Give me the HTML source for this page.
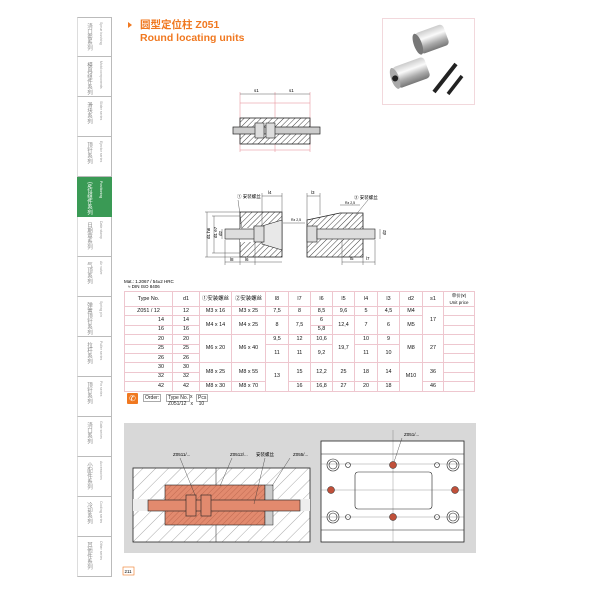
<!DOCTYPE html>
<html><head><meta charset="utf-8"><style>
*{margin:0;padding:0;box-sizing:border-box}
body{width:600px;height:600px;background:#fff;position:relative;overflow:hidden;font-family:"Liberation Sans","Noto Sans CJK SC",sans-serif;color:#222}
.a{position:absolute}
.tab{position:absolute;left:77px;width:35px;height:40px;border-bottom:1px solid #bbb;border-right:1px solid #bbb;border-left:1px solid #ddd}
.tab .cn{position:absolute;left:7px;top:5px;writing-mode:vertical-rl;font-size:5.5px;color:#888;line-height:7px;white-space:nowrap}
.tab .en{position:absolute;left:21px;top:4px;writing-mode:vertical-rl;font-size:3.5px;color:#999;line-height:4px;white-space:nowrap}
.g{background:#3a9a55;border-color:#3a9a55}
.g .cn,.g .en{color:#fff}
table{position:absolute;left:124px;top:291px;border-collapse:collapse;font-size:5.4px;width:351px;color:#111}
td{border:1px solid #eec7cf;text-align:center;height:9.4px;padding:0;line-height:7px}
tr.h td{height:13px}
</style></head><body>
<div class="tab" style="top:17px;border-top:1px solid #bbb"><div class="cn">浇口套系列</div><div class="en">Sprue bushing</div></div>
<div class="tab" style="top:57px"><div class="cn">模具组件系列</div><div class="en">Mold components</div></div>
<div class="tab" style="top:97px"><div class="cn">滑块系列</div><div class="en">Slider series</div></div>
<div class="tab" style="top:137px"><div class="cn">顶针系列</div><div class="en">Ejector series</div></div>
<div class="tab g" style="top:177px"><div class="cn">定位组件系列</div><div class="en">Positioning</div></div>
<div class="tab" style="top:217px"><div class="cn">日期章系列</div><div class="en">Date stamp</div></div>
<div class="tab" style="top:257px"><div class="cn">气顶系列</div><div class="en">Air valve</div></div>
<div class="tab" style="top:297px"><div class="cn">弹簧顶针系列</div><div class="en">Spring pin</div></div>
<div class="tab" style="top:337px"><div class="cn">拉杆系列</div><div class="en">Puller series</div></div>
<div class="tab" style="top:377px"><div class="cn">顶针系列</div><div class="en">Pin series</div></div>
<div class="tab" style="top:417px"><div class="cn">浇口系列</div><div class="en">Gate series</div></div>
<div class="tab" style="top:457px"><div class="cn">小配件系列</div><div class="en">Accessories</div></div>
<div class="tab" style="top:497px"><div class="cn">冷却系列</div><div class="en">Cooling series</div></div>
<div class="tab" style="top:537px"><div class="cn">其他件系列</div><div class="en">Other series</div></div>

<div class="a" style="left:128px;top:22px;width:0;height:0;border-left:4px solid #f07820;border-top:3px solid transparent;border-bottom:3px solid transparent"></div>
<div class="a" style="left:140px;top:19px;font-size:10.5px;font-weight:bold;color:#f07820;line-height:12px">圆型定位柱 Z051</div>
<div class="a" style="left:140px;top:32px;font-size:10.5px;font-weight:bold;color:#f07820;line-height:12px">Round locating units</div>

<div class="a" style="left:382px;top:18px;width:93px;height:87px;border:1px solid #f2d8dc"></div>
<svg class="a" style="left:382px;top:18px" width="93" height="87">
<defs><linearGradient id="m" x1="0" y1="0" x2="0" y2="1"><stop offset="0" stop-color="#ccc"/><stop offset=".35" stop-color="#fafafa"/><stop offset=".7" stop-color="#aaa"/><stop offset="1" stop-color="#777"/></linearGradient></defs>
<g transform="rotate(-20 45 25)"><rect x="36" y="12" width="30" height="22" rx="4" fill="url(#m)"/><ellipse cx="36" cy="23" rx="4" ry="11" fill="#777"/></g>
<g transform="rotate(-20 25 55)"><rect x="12" y="45" width="34" height="22" rx="4" fill="url(#m)"/><ellipse cx="12" cy="56" rx="4" ry="11" fill="#aaa"/><circle cx="12" cy="56" r="3" fill="#222"/></g>
<line x1="52" y1="74" x2="74" y2="46" stroke="#222" stroke-width="4"/><line x1="66" y1="76" x2="80" y2="58" stroke="#222" stroke-width="3.5"/>
</svg>

<svg class="a" style="left:0;top:0" width="600" height="290" font-size="4.5" font-family="Liberation Sans,Noto Sans CJK SC,sans-serif">
<defs><pattern id="h" width="4" height="4" patternUnits="userSpaceOnUse" patternTransform="rotate(45)"><rect width="4" height="4" fill="#fff"/><line x1="0" y1="0" x2="0" y2="4" stroke="#444" stroke-width="1"/></pattern></defs>
<g stroke="#e5868f" stroke-width=".5" fill="none"><line x1="240" y1="92" x2="240" y2="152"/><line x1="275" y1="92" x2="275" y2="152"/><line x1="310" y1="92" x2="310" y2="152"/><line x1="240" y1="103" x2="310" y2="103"/><line x1="240" y1="150" x2="310" y2="150"/></g>
<line x1="240" y1="94" x2="310" y2="94" stroke="#333" stroke-width=".4"/>
<text x="254" y="92">s1</text><text x="289" y="92">s1</text>
<rect x="240" y="118" width="70" height="26" fill="url(#h)" stroke="#222" stroke-width=".8"/>
<rect x="233" y="127" width="87" height="7" fill="#ccc" stroke="#222" stroke-width=".7"/>
<rect x="255" y="123" width="9" height="15" fill="#ddd" stroke="#222" stroke-width=".6"/><rect x="266" y="123" width="9" height="15" fill="#ddd" stroke="#222" stroke-width=".6"/>
<rect x="240" y="212" width="42" height="45" fill="url(#h)" stroke="#222" stroke-width=".8"/>
<rect x="240" y="228" width="42" height="14" fill="#fff"/>
<polygon points="262,226 282,220 282,250 262,244" fill="#e8e8e8" stroke="#222" stroke-width=".6"/>
<rect x="225" y="229" width="30" height="10" fill="#ddd" stroke="#222" stroke-width=".6"/>
<rect x="254" y="226" width="10" height="16" fill="#ddd" stroke="#222" stroke-width=".6"/>
<g stroke="#333" stroke-width=".4" fill="none"><line x1="205" y1="212" x2="240" y2="212"/><line x1="205" y1="257" x2="240" y2="257"/><line x1="212" y1="216" x2="240" y2="216"/><line x1="212" y1="253" x2="240" y2="253"/><line x1="207" y1="212" x2="207" y2="257"/><line x1="214" y1="216" x2="214" y2="253"/><line x1="222" y1="229" x2="222" y2="239"/><line x1="225" y1="262" x2="282" y2="262"/><line x1="225" y1="240" x2="225" y2="265"/><line x1="240" y1="257" x2="240" y2="265"/><line x1="255" y1="242" x2="255" y2="265"/><line x1="262" y1="196" x2="282" y2="196"/><line x1="262" y1="193" x2="262" y2="225"/><line x1="282" y1="193" x2="282" y2="212"/><line x1="242" y1="229" x2="238" y2="200"/><line x1="283" y1="223" x2="305" y2="223"/></g>
<text x="203" y="240" transform="rotate(-90 206 236)">d1 h6</text><text x="211" y="240" transform="rotate(-90 213 236)">d1 e7</text><text x="218" y="236" transform="rotate(-90 220 234)">d2</text>
<text x="230" y="261">l8</text><text x="245" y="261">l6</text><text x="268" y="194">l4</text><text x="291" y="221" font-size="3.5">Rz 2,5</text>
<text x="237" y="198">① 安装螺丝</text>
<polygon points="307,220 340,213 363,213 363,257 307,257" fill="url(#h)" stroke="#222" stroke-width=".8"/>
<rect x="307" y="229" width="56" height="10" fill="#fff"/>
<rect x="307" y="226" width="10" height="16" fill="#ddd" stroke="#222" stroke-width=".6"/>
<rect x="317" y="229" width="58" height="10" fill="#ddd" stroke="#222" stroke-width=".6"/>
<g stroke="#333" stroke-width=".4" fill="none"><line x1="307" y1="196" x2="320" y2="196"/><line x1="307" y1="193" x2="307" y2="220"/><line x1="320" y1="193" x2="320" y2="215"/><line x1="342" y1="262" x2="375" y2="262"/><line x1="342" y1="240" x2="342" y2="265"/><line x1="363" y1="257" x2="363" y2="265"/><line x1="375" y1="240" x2="375" y2="265"/><line x1="380" y1="229" x2="380" y2="239"/><line x1="340" y1="205" x2="360" y2="205"/><line x1="345" y1="228" x2="368" y2="200"/></g>
<text x="311" y="194">l3</text><text x="350" y="260">l5</text><text x="366" y="260">l7</text><text x="345" y="204" font-size="3.5">Rz 2,5</text>
<text x="383" y="236" transform="rotate(-90 384 234)">d2</text>
<text x="354" y="199">② 安装螺丝</text>
<text x="124" y="283" font-size="4.5">Mat.: 1.2067 / 54±2 HRC</text><text x="128" y="288" font-size="4.5">≈ DIN ISO 8406</text>
</svg>

<table>
<tr class="h"><td style="width:48px">Type No.</td><td style="width:27px">d1</td><td style="width:32px">①安装螺丝</td><td style="width:34px">②安装螺丝</td><td style="width:23px">l8</td><td style="width:22px">l7</td><td style="width:22px">l6</td><td style="width:22px">l5</td><td style="width:23px">l4</td><td style="width:22px">l3</td><td style="width:23px">d2</td><td style="width:21px">s1</td><td style="font-size:4.5px">单价(¥)<br>Unit price</td></tr>
<tr><td>Z051 / 12</td><td>12</td><td>M3 x 16</td><td>M3 x 25</td><td>7,5</td><td>8</td><td>8,5</td><td>9,6</td><td>5</td><td>4,5</td><td>M4</td><td rowspan="3">17</td><td></td></tr>
<tr><td style="text-align:right;padding-right:8px">14</td><td>14</td><td rowspan="2">M4 x 14</td><td rowspan="2">M4 x 25</td><td rowspan="2">8</td><td rowspan="2">7,5</td><td>6</td><td rowspan="2">12,4</td><td rowspan="2">7</td><td rowspan="2">6</td><td rowspan="2">M5</td><td></td></tr>
<tr><td style="text-align:right;padding-right:8px">16</td><td>16</td><td>5,8</td><td></td></tr>
<tr><td style="text-align:right;padding-right:8px">20</td><td>20</td><td rowspan="3">M6 x 20</td><td rowspan="3">M6 x 40</td><td>9,5</td><td>12</td><td>10,6</td><td rowspan="3">19,7</td><td>10</td><td>9</td><td rowspan="3">M8</td><td rowspan="3">27</td><td></td></tr>
<tr><td style="text-align:right;padding-right:8px">25</td><td>25</td><td rowspan="2">11</td><td rowspan="2">11</td><td rowspan="2">9,2</td><td rowspan="2">11</td><td rowspan="2">10</td><td></td></tr>
<tr><td style="text-align:right;padding-right:8px">26</td><td>26</td><td></td></tr>
<tr><td style="text-align:right;padding-right:8px">30</td><td>30</td><td rowspan="2">M8 x 25</td><td rowspan="2">M8 x 55</td><td rowspan="3">13</td><td rowspan="2">15</td><td rowspan="2">12,2</td><td rowspan="2">25</td><td rowspan="2">18</td><td rowspan="2">14</td><td rowspan="3">M10</td><td rowspan="2">36</td><td></td></tr>
<tr><td style="text-align:right;padding-right:8px">32</td><td>32</td><td></td></tr>
<tr><td style="text-align:right;padding-right:8px">42</td><td>42</td><td>M8 x 30</td><td>M8 x 70</td><td>16</td><td>16,8</td><td>27</td><td>20</td><td>18</td><td>46</td><td></td></tr>
</table>

<div class="a" style="left:127px;top:393px;width:11px;height:11px;background:#f07820;border-radius:1px;color:#fff;font-size:8px;line-height:11px;text-align:center">✆</div>
<div class="a" style="left:143px;top:394px;font-size:5px;border:1px solid #aaa;padding:0 1px">Order:</div>
<div class="a" style="left:166px;top:394px;font-size:5px;border:1px solid #aaa;padding:0 1px">Type No.</div>
<div class="a" style="left:190px;top:394px;font-size:5px">x</div>
<div class="a" style="left:196px;top:394px;font-size:5px;border:1px solid #aaa;padding:0 1px">Pcs</div>
<div class="a" style="left:168px;top:401px;font-size:5px">Z051/12 &nbsp; x &nbsp;&nbsp; 10</div>

<div class="a" style="left:124px;top:423px;width:352px;height:130px;background:#d8d8d8"></div>
<svg class="a" style="left:0;top:0" width="600" height="600" font-size="4.5" font-family="Liberation Sans,Noto Sans CJK SC,sans-serif">
<defs><pattern id="h2" width="9" height="9" patternUnits="userSpaceOnUse" patternTransform="rotate(45)"><rect width="9" height="9" fill="#fff"/><line x1="0" y1="0" x2="0" y2="9" stroke="#555" stroke-width=".5"/></pattern>
<pattern id="h3" width="4" height="4" patternUnits="userSpaceOnUse" patternTransform="rotate(45)"><rect width="4" height="4" fill="#e28a6e"/><line x1="0" y1="0" x2="0" y2="4" stroke="#a04a36" stroke-width=".5"/></pattern></defs>
<rect x="133" y="468" width="177" height="74" fill="url(#h2)" stroke="#222" stroke-width=".8"/>
<line x1="216" y1="468" x2="216" y2="542" stroke="#222" stroke-width=".5"/>
<rect x="133" y="499" width="177" height="12" fill="#eee"/>
<rect x="165" y="485" width="100" height="40" fill="url(#h3)" stroke="#222" stroke-width=".6"/>
<rect x="265" y="485" width="8" height="40" fill="#ccc" stroke="#222" stroke-width=".5"/>
<rect x="148" y="500" width="152" height="11" fill="#e28a6e" stroke="#222" stroke-width=".6"/>
<rect x="186" y="495" width="10" height="21" fill="#e28a6e" stroke="#222" stroke-width=".6"/>
<rect x="201" y="495" width="10" height="21" fill="#e28a6e" stroke="#222" stroke-width=".6"/>
<g stroke="#333" stroke-width=".4"><line x1="180" y1="458" x2="195" y2="495"/><line x1="232" y1="458" x2="220" y2="486"/><line x1="265" y1="458" x2="254" y2="504"/><line x1="290" y1="458" x2="272" y2="486"/></g>
<text x="173" y="456">Z0511/...</text><text x="230" y="456">Z0512/...</text><text x="256" y="456">安装螺丝</text><text x="293" y="456">Z055/...</text>
<rect x="321" y="441" width="143" height="101" fill="#fff" stroke="#222" stroke-width=".8"/>
<line x1="321" y1="454" x2="464" y2="454" stroke="#222" stroke-width=".5"/><line x1="321" y1="530" x2="464" y2="530" stroke="#222" stroke-width=".5"/>
<rect x="355" y="472" width="77" height="37" rx="3" fill="#fff" stroke="#222" stroke-width=".6"/>
<g stroke="#555" stroke-width=".3"><line x1="393" y1="430" x2="393" y2="542"/><line x1="321" y1="490" x2="464" y2="490"/><line x1="321" y1="464" x2="464" y2="464"/><line x1="321" y1="517" x2="464" y2="517"/></g>
<g fill="none" stroke="#222" stroke-width=".6"><circle cx="333" cy="465" r="6"/><circle cx="333" cy="465" r="4"/><circle cx="453" cy="465" r="6"/><circle cx="453" cy="465" r="4"/><circle cx="333" cy="517" r="6"/><circle cx="333" cy="517" r="4"/><circle cx="453" cy="517" r="6"/><circle cx="453" cy="517" r="4"/><circle cx="348" cy="465" r="2.5"/><circle cx="437" cy="465" r="2.5"/><circle cx="348" cy="517" r="2.5"/><circle cx="437" cy="517" r="2.5"/></g>
<g fill="#c0503a" stroke="#222" stroke-width=".5"><circle cx="393" cy="465" r="3.5"/><circle cx="393" cy="517" r="3.5"/><circle cx="331" cy="490" r="3.5"/><circle cx="455" cy="490" r="3.5"/></g>
<line x1="402" y1="438" x2="394" y2="462" stroke="#333" stroke-width=".4"/><text x="404" y="436">Z051/...</text>
<rect x="123" y="567" width="11" height="8" fill="#fff" stroke="#f07820" stroke-width=".6"/><text x="124.5" y="573" font-size="4.5">211</text>
</svg>
</body></html>
